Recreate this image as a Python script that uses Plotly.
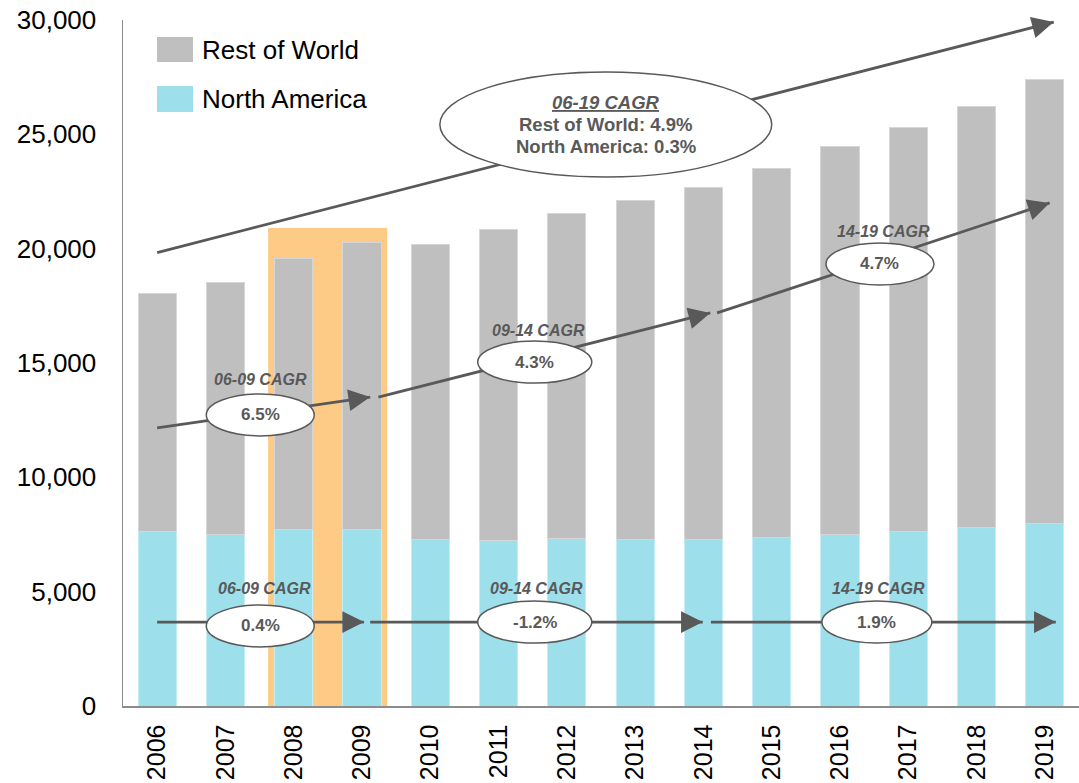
import math
import plotly.graph_objects as go

# ---------------- data ----------------
years = ["2006", "2007", "2008", "2009", "2010", "2011", "2012",
         "2013", "2014", "2015", "2016", "2017", "2018", "2019"]
north_america = [7650, 7520, 7710, 7740, 7290, 7220, 7330,
                 7290, 7290, 7350, 7480, 7640, 7820, 7990]
rest_of_world = [10380, 11020, 11840, 12520, 12910, 13630, 14210,
                 14800, 15390, 16150, 16980, 17650, 18410, 19420]
y_ticks = [0, 5000, 10000, 15000, 20000, 25000, 30000]

# CAGR callouts (text)
row_cagr_labels = ["06-09 CAGR", "09-14 CAGR", "14-19 CAGR"]
row_cagr_values = ["6.5%", "4.3%", "4.7%"]
na_cagr_labels = ["06-09 CAGR", "09-14 CAGR", "14-19 CAGR"]
na_cagr_values = ["0.4%", "-1.2%", "1.9%"]
total_cagr_title = "06-19 CAGR"
total_cagr_lines = ["Rest of World: 4.9%", "North America: 0.3%"]

# ---------------- annotation geometry (category-index / value units) ----------------
row_arrow_x0 = [0.0, 3.24, 8.20]
row_arrow_y0 = [12160, 13510, 17190]
row_arrow_x1 = [3.12, 8.10, 13.07]
row_arrow_y1 = [13510, 17190, 22000]
row_ell_cx = [1.51, 5.53, 10.585]
row_ell_cy = [12730, 15040, 19330]
row_ell_rx = [0.79, 0.835, 0.79]
row_lbl_x = [1.52, 5.58, 10.63]
row_lbl_y = [14300, 16440, 20730]

na_arrow_x0 = [0.0, 3.12, 8.11]
na_arrow_x1 = [3.03, 7.99, 13.16]
na_arrow_y = 3670
na_ell_cx = [1.51, 5.53, 10.54]
na_ell_cy = [3500, 3670, 3670]
na_ell_rx = [0.79, 0.835, 0.805]
na_lbl_x = [1.57, 5.56, 10.57]
na_lbl_y = 5120

ell_ry = 918

big_arrow_x = [0.0, 13.13]
big_arrow_y = [19830, 29910]
big_ell = dict(cx=6.57, cy=25430, rx=2.43, ry=2296)
big_text_y = [26375, 25415, 24450]

highlight_x = [1.625, 3.37]
highlight_top = 20900

# ---------------- styling ----------------
GREY = "#BFBFBF"
CYAN = "#9DDFEB"
ORANGE = "#FDCB86"
DARK = "#595959"
AXIS = "#8C8C8C"
FONT = "Liberation Sans, Arial, sans-serif"

W, H = 1079, 783
ML, MR, MT, MB = 123, 0, 20, 77
PW, PH = W - ML - MR, H - MT - MB
XR = [-0.5, 13.5]
YR = [0, 30000]
px_per_x = PW / (XR[1] - XR[0])
px_per_y = PH / (YR[1] - YR[0])

xs = list(range(len(years)))

fig = go.Figure()
fig.add_bar(x=xs, y=north_america, name="North America",
            marker=dict(color=CYAN, line=dict(color="#C4EDF4", width=1)),
            showlegend=False, hoverinfo="skip")
fig.add_bar(x=xs, y=rest_of_world, name="Rest of World",
            marker=dict(color=GREY, line=dict(color="#D6D6D6", width=1)),
            showlegend=False, hoverinfo="skip")

shapes = []
annotations = []

# orange highlight behind bars
shapes.append(dict(type="rect", xref="x", yref="y", x0=highlight_x[0], x1=highlight_x[1],
                   y0=0, y1=highlight_top, fillcolor=ORANGE, line=dict(width=0), layer="below"))


def add_line(x0, y0, x1, y1):
    fig.add_trace(go.Scatter(x=[x0, x1], y=[y0, y1], mode="lines",
                             line=dict(color=DARK, width=2.8),
                             showlegend=False, hoverinfo="skip"))
    dxp = (x1 - x0) * px_per_x
    dyp = (y1 - y0) * px_per_y
    n = math.hypot(dxp, dyp)
    L = 14
    annotations.append(dict(x=x1, y=y1, xref="x", yref="y", text="", showarrow=True,
                            ax=-dxp / n * L, ay=dyp / n * L, axref="pixel", ayref="pixel",
                            arrowhead=2, arrowsize=1.55, arrowwidth=2.8, arrowcolor=DARK,
                            standoff=0))


def add_ellipse(cx, cy, rx, ry):
    shapes.append(dict(type="circle", xref="x", yref="y", x0=cx - rx, x1=cx + rx,
                       y0=cy - ry, y1=cy + ry, fillcolor="white",
                       line=dict(color=DARK, width=1.5), layer="above"))


# big total arrow
add_line(big_arrow_x[0], big_arrow_y[0], big_arrow_x[1], big_arrow_y[1])
add_ellipse(big_ell["cx"], big_ell["cy"], big_ell["rx"], big_ell["ry"])
annotations.append(dict(x=big_ell["cx"], y=big_text_y[0], xref="x", yref="y", showarrow=False,
                        text="<b><i><u>" + total_cagr_title + "</u></i></b>",
                        font=dict(family=FONT, size=18.5, color=DARK)))
for t, yy in zip(total_cagr_lines, big_text_y[1:]):
    annotations.append(dict(x=big_ell["cx"], y=yy, xref="x", yref="y", showarrow=False,
                            text="<b>" + t + "</b>",
                            font=dict(family=FONT, size=18.5, color=DARK)))

# Rest of World segments
for i in range(3):
    add_line(row_arrow_x0[i], row_arrow_y0[i], row_arrow_x1[i], row_arrow_y1[i])
    add_ellipse(row_ell_cx[i], row_ell_cy[i], row_ell_rx[i], ell_ry)
    annotations.append(dict(x=row_ell_cx[i], y=row_ell_cy[i], xref="x", yref="y", showarrow=False,
                            text="<b>" + row_cagr_values[i] + "</b>",
                            font=dict(family=FONT, size=17, color=DARK)))
    annotations.append(dict(x=row_lbl_x[i], y=row_lbl_y[i], xref="x", yref="y", showarrow=False,
                            text="<b><i>" + row_cagr_labels[i] + "</i></b>",
                            font=dict(family=FONT, size=16, color=DARK)))

# North America segments
for i in range(3):
    add_line(na_arrow_x0[i], na_arrow_y, na_arrow_x1[i], na_arrow_y)
    add_ellipse(na_ell_cx[i], na_ell_cy[i], na_ell_rx[i], ell_ry)
    annotations.append(dict(x=na_ell_cx[i], y=na_ell_cy[i], xref="x", yref="y", showarrow=False,
                            text="<b>" + na_cagr_values[i] + "</b>",
                            font=dict(family=FONT, size=17, color=DARK)))
    annotations.append(dict(x=na_lbl_x[i], y=na_lbl_y, xref="x", yref="y", showarrow=False,
                            text="<b><i>" + na_cagr_labels[i] + "</i></b>",
                            font=dict(family=FONT, size=16, color=DARK)))

# custom legend (page pixels converted to paper units)
legend_items = [("Rest of World", GREY, 37, 62, 50), ("North America", CYAN, 86, 112, 99)]
for name, col, top, bot, mid in legend_items:
    shapes.append(dict(type="rect", xref="paper", yref="paper",
                       x0=(157 - ML) / PW, x1=(193 - ML) / PW,
                       y0=(H - MB - bot) / PH, y1=(H - MB - top) / PH,
                       fillcolor=col, line=dict(width=0), layer="above"))
    annotations.append(dict(x=(200 - ML) / PW, y=(H - MB - mid) / PH,
                            xref="paper", yref="paper",
                            xanchor="left", yanchor="middle", showarrow=False, text=name,
                            font=dict(family=FONT, size=26, color="black")))

fig.update_layout(
    width=W, height=H,
    margin=dict(l=ML, r=MR, t=MT, b=MB, pad=0, autoexpand=False),
    barmode="stack", bargap=0.44,
    plot_bgcolor="white", paper_bgcolor="white",
    shapes=shapes, annotations=annotations,
    showlegend=False,
    xaxis=dict(range=XR, tickvals=xs, ticktext=years, tickangle=-90, automargin=False,
               showgrid=False, zeroline=False, showline=True, linecolor=AXIS, linewidth=1.5,
               ticks="outside", ticklen=7, tickcolor="rgba(0,0,0,0)",
               tickfont=dict(family=FONT, size=25, color="black"), fixedrange=True),
    yaxis=dict(range=YR, tickvals=y_ticks, tickformat=",d", automargin=False,
               showgrid=False, zeroline=False, showline=True, linecolor=AXIS, linewidth=1.5,
               ticks="outside", ticklen=20, tickcolor="rgba(0,0,0,0)",
               tickfont=dict(family=FONT, size=26, color="black"), fixedrange=True),
)

fig.write_html("out.html", config={"displayModeBar": False, "staticPlot": True},
               post_script="document.body.style.margin='0px';document.body.style.overflow='hidden';")
